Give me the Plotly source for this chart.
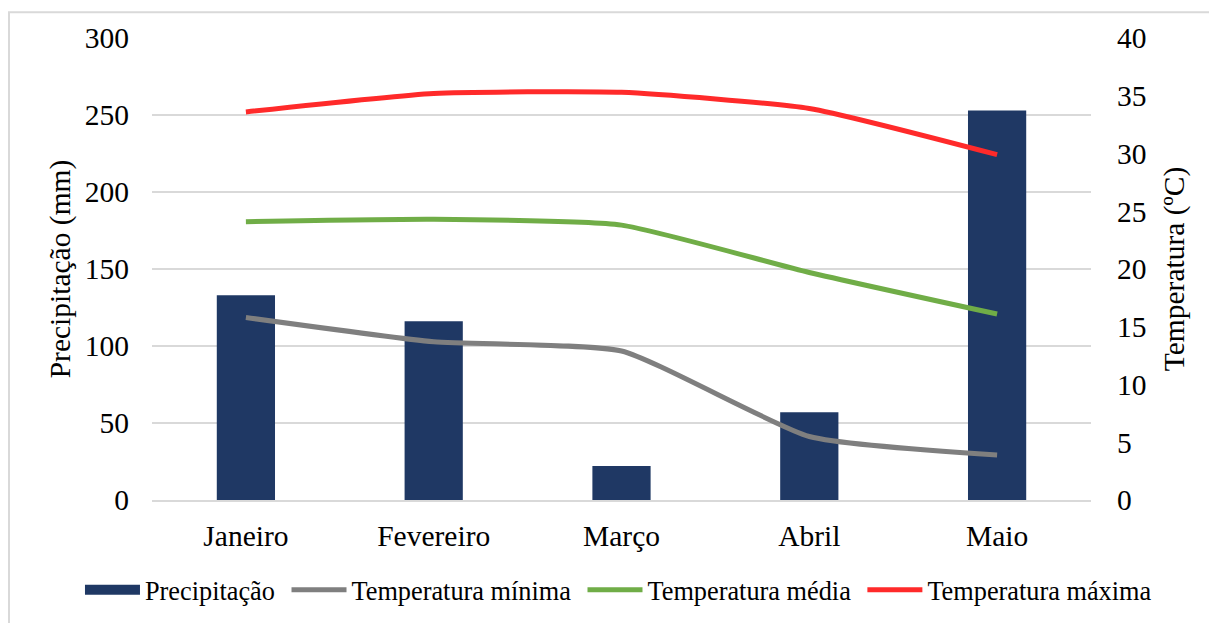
import plotly.graph_objects as go

meses = ["Janeiro", "Fevereiro", "Março", "Abril", "Maio"]
precipitacao = [133, 116, 22, 57, 253]
temp_min = [15.8, 13.7, 12.9, 5.5, 3.9]
temp_media = [24.1, 24.3, 23.8, 19.7, 16.1]
temp_max = [33.6, 35.2, 35.3, 33.9, 29.9]

FONT = "Liberation Serif"
FS = 29.5
NB = "\u00a0"

fig = go.Figure()
fig.add_trace(go.Bar(x=meses, y=precipitacao, name="Precipitação", showlegend=False,
                     marker=dict(color="#1f3864", line=dict(width=0)), width=0.31))
# legend entry for the bars (wide rectangle key as in the reference)
fig.add_trace(go.Scatter(x=[None], y=[None], name="Precipitação" + NB, mode="lines",
                         line=dict(color="#1f3864", width=14)))
fig.add_trace(go.Scatter(x=meses, y=temp_min, name="Temperatura mínima" + NB, yaxis="y2",
                         mode="lines", line=dict(color="#7f7f7f", width=5, shape="spline", smoothing=0.5)))
fig.add_trace(go.Scatter(x=meses, y=temp_media, name="Temperatura média" + NB, yaxis="y2",
                         mode="lines", line=dict(color="#70ad47", width=5, shape="spline", smoothing=0.5)))
fig.add_trace(go.Scatter(x=meses, y=temp_max, name="Temperatura máxima", yaxis="y2",
                         mode="lines", line=dict(color="#ff2a2a", width=5, shape="spline", smoothing=0.5)))

fig.update_layout(
    width=1217, height=623,
    margin=dict(l=144, r=134, t=30, b=131),
    plot_bgcolor="white", paper_bgcolor="white",
    font=dict(family=FONT, size=FS, color="black"),
    bargap=0.69,
    xaxis=dict(showgrid=False, showline=True, linecolor="#d9d9d9", linewidth=2,
               ticks="", tickfont=dict(family=FONT, size=FS), ticklabelstandoff=9,
               automargin=False),
    yaxis=dict(range=[0, 300], dtick=50, showgrid=True, gridcolor="#d9d9d9", gridwidth=2,
               zeroline=False, showline=False, ticks="", automargin=False,
               title=dict(text="Precipitação (mm)", font=dict(family=FONT, size=FS), standoff=5),
               tickfont=dict(family=FONT, size=FS), ticklabelstandoff=22),
    yaxis2=dict(range=[0, 40], dtick=5, overlaying="y", side="right", showgrid=False,
                zeroline=False, showline=False, ticks="", automargin=False,
                title=dict(text="Temperatura (ºC)", font=dict(family=FONT, size=FS), standoff=17),
                tickfont=dict(family=FONT, size=FS), ticklabelstandoff=25),
    legend=dict(orientation="h", x=-0.0767, xanchor="left", y=-0.195, yanchor="middle",
                font=dict(family=FONT, size=26.3), traceorder="normal", itemwidth=55, tracegroupgap=0),
    shapes=[dict(type="rect", xref="paper", yref="paper",
                 x0=-0.1523, x1=1.1416, y0=-0.2814, y1=1.056,
                 line=dict(color="#d9d9d9", width=2), layer="below")],
    annotations=[dict(text="Paraná, Brasil (2020).", xref="paper", yref="paper",
                      x=0.026, y=1.083, xanchor="left", yanchor="bottom",
                      showarrow=False, font=dict(family=FONT, size=FS, color="black"))],
)

fig.write_html("out.html")
